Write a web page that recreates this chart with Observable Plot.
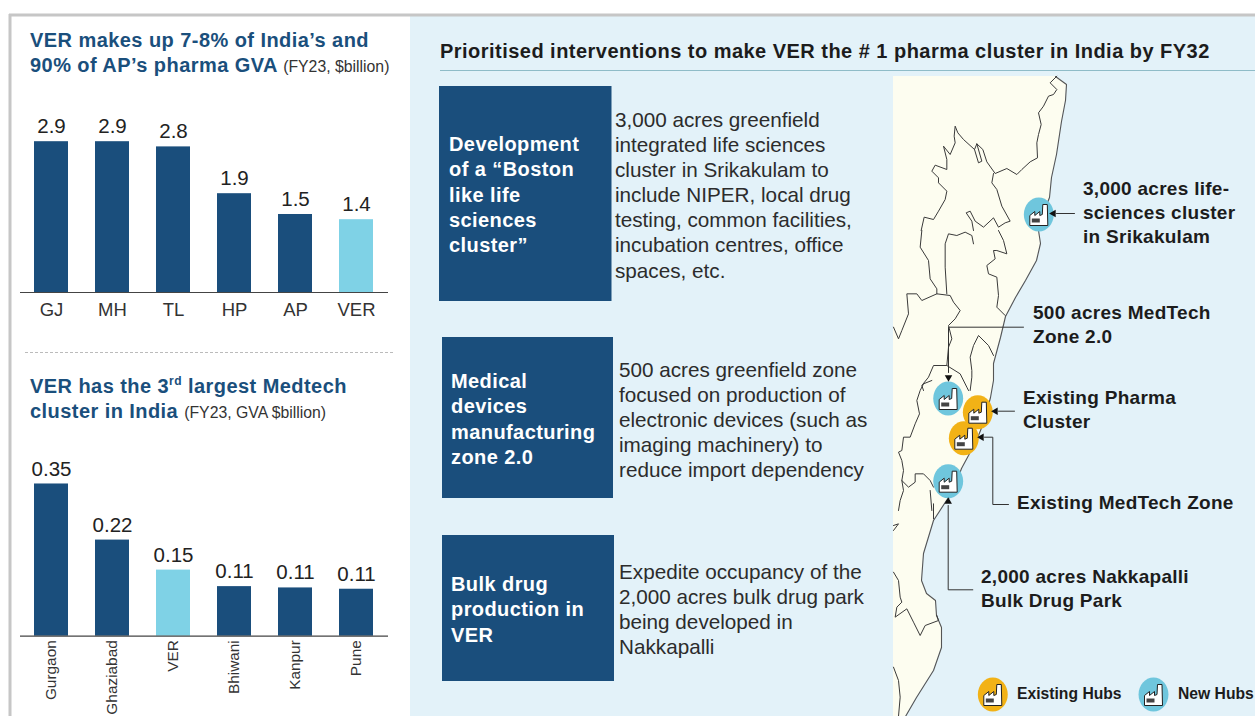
<!DOCTYPE html>
<html><head><meta charset="utf-8">
<script src="https://cdn.jsdelivr.net/npm/d3@7"></script>
<script src="https://cdn.jsdelivr.net/npm/@observablehq/plot@0.6"></script>
<style>
html,body{margin:0;padding:0;background:#fff;overflow:hidden}
#page{position:relative;width:1255px;height:716px;overflow:hidden;font-family:"Liberation Sans",Arial,sans-serif}
#page svg{position:absolute;left:0;top:0;background:transparent;max-width:none}
.t{position:absolute;white-space:nowrap}
.head{color:#1a4f7c;font-weight:bold;font-size:20px;line-height:25px;left:30px;letter-spacing:.44px}
.head small{font-weight:normal;font-size:15.8px;color:#333;letter-spacing:0}
.head sup{font-size:12px;line-height:0}
.title{font-weight:bold;font-size:20px;line-height:24px;color:#1c1c1c;letter-spacing:.47px}
.box{color:#fff;font-weight:bold;font-size:20px;line-height:25.3px;letter-spacing:.42px}
.desc{color:#2c2c2c;font-size:20.7px;line-height:25.1px}
.lab{color:#1c1c1c;font-weight:bold;font-size:19px;line-height:24px;letter-spacing:.28px}
.leg{color:#1c1c1c;font-weight:bold;font-size:15.7px;line-height:18px}
</style></head><body><div id="page"></div>
<script>
// ---- chart data
const stateNames = ["GJ","MH","TL","HP","AP","VER"];
const stateGva = [2.9,2.9,2.8,1.9,1.5,1.4];
const clusterNames = ["Gurgaon","Ghaziabad","VER","Bhiwani","Kanpur","Pune"];
const clusterGva = [0.35,0.221,0.152,0.114,0.111,0.108];
const NAVY="#1a4e7c", SKY="#7fd2e6", INK="#222", ORANGE="#f2b216", TEAL="#6fc6dd";

// ---- text
const boxTexts = [
 ["Development","of a “Boston","like life","sciences","cluster”"],
 ["Medical","devices","manufacturing","zone 2.0"],
 ["Bulk drug","production in","VER"]];
const descTexts = [
 ["3,000 acres greenfield","integrated life sciences","cluster in Srikakulam to","include NIPER, local drug","testing, common facilities,","incubation centres, office","spaces, etc."],
 ["500 acres greenfield zone","focused on production of","electronic devices (such as","imaging machinery) to","reduce import dependency"],
 ["Expedite occupancy of the","2,000 acres bulk drug park","being developed in","Nakkapalli"]];
const mapLabels = [
 ["3,000 acres life-","sciences cluster","in Srikakulam"],
 ["500 acres MedTech","Zone 2.0"],
 ["Existing Pharma","Cluster"],
 ["Existing MedTech Zone"],
 ["2,000 acres Nakkapalli","Bulk Drug Park"]];

// ---- map geometry (traced outline, page pixels)
const coast = [[1055,76],[1066,84],[1065,100],[1061,121],[1056,154],[1051,177],[1049,197],[1042,215],[1038,230],[1040,243],[1036,260],[1025,280],[1015,297],[1005,316],[1000,337],[993,363],[993,380],[990,397],[984,420],[978,435],[968,455],[961,468],[951,495],[946,500],[933,520],[923,553],[921,580],[926,593],[935,600],[936,615],[941,627],[941,647],[933,670],[916,697],[905,716]];
const tr = (ox,oy,pts) => pts.map(([x,y])=>[x/3+ox,y/3+oy]);
const borders = [
 tr(893,74,[[490,5],[470,25],[490,45],[480,60],[465,65],[450,95],[435,115],[443,150],[435,180],[430,205],[432,250],[410,262],[385,285],[370,300],[340,282],[305,297],[280,262],[268,225],[250,208],[243,225],[210,195],[193,175],[185,155],[182,185],[185,205],[170,240],[150,215],[160,255],[160,285],[125,272],[115,290],[135,310],[135,325],[160,350],[155,375],[135,410],[120,435],[92,428],[83,468]]),
 tr(893,74,[[243,225],[255,265],[265,260],[250,208]]),
 tr(893,74,[[300,297],[295,325],[310,345],[325,395],[350,440],[335,445],[315,458],[300,430],[270,458],[245,440],[230,410],[218,415],[235,440],[240,468]]),
 tr(893,230,[[85,0],[80,50],[105,90],[110,145],[130,175],[130,190]]),
 tr(893,230,[[240,40],[235,15],[215,5],[190,15],[165,10],[155,40],[155,110],[160,190]]),
 tr(893,230,[[315,0],[330,30],[340,70],[310,60],[300,60],[305,85],[280,105],[285,130],[310,140],[315,195],[310,230],[335,255]]),
 tr(893,230,[[0,290],[15,325],[25,300],[45,250],[40,190],[70,190],[85,210],[130,190],[170,195],[180,215],[200,240],[185,265],[165,285],[175,325],[165,350],[160,405],[120,405],[105,440],[85,465],[90,480]]),
 tr(893,230,[[160,405],[200,430],[220,470],[225,480]]),
 tr(893,230,[[300,375],[285,345],[255,315],[240,345],[230,380],[235,420],[235,440],[230,480]]),
 tr(893,380,[[115,0],[90,10],[80,30],[70,60],[78,100],[65,130],[50,170],[30,170],[25,210],[15,215],[25,240],[30,270],[25,300],[45,320],[65,305],[65,280],[90,280],[110,300],[120,320]]),
 tr(893,380,[[25,300],[30,330],[20,360],[15,390]]),
 tr(893,380,[[110,330],[115,390]]),
 tr(893,500,[[0,215],[15,240],[20,290],[25,305],[10,320],[5,350],[40,325],[60,365],[80,405],[95,375],[135,360],[130,345]]),
 tr(893,500,[[0,500],[15,540],[20,590],[15,648]]),
 tr(893,500,[[0,75],[15,70],[0,90]]),
 tr(893,500,[[120,10],[120,55]])
];
const leaders = [
 [[1074,213],[1056,213]],
 [[1023,326.7],[948,326.7],[948,372]],
 [[1014,410.7],[998,410.7]],
 [[1008,504],[992.3,504],[992.3,436.7],[984,436.7]],
 [[972.3,589.3],[947.7,589.3],[947.7,505]]
];
const arrowTips = [{p:[1053,213],r:-90},{p:[948,377],r:180},{p:[995,410.7],r:-90},{p:[981,436.7],r:-90},{p:[947.7,501],r:0}];
const hubsNew = [[1038.3,214],[947.7,398],[947.7,480.7],[1153,694]];
const hubsOld = [[977.3,411.7],[963.3,437.7],[992.3,694]];
const boxes = [[439,86,611.5,301],[442,337,613,498],[442,535,614,681]];

// ---- hub symbols
const k = .5523;
const badge = {draw(c,s){const r=Math.sqrt(s/Math.PI), a=r*.88, b=r;
  c.moveTo(a,0);c.bezierCurveTo(a,b*k,a*k,b,0,b);c.bezierCurveTo(-a*k,b,-a,b*k,-a,0);
  c.bezierCurveTo(-a,-b*k,-a*k,-b,0,-b);c.bezierCurveTo(a*k,-b,a,-b*k,a,0);c.closePath();}};
const factory = {draw(c,s){const u=Math.sqrt(s/Math.PI)/12;
  const P=[[-9,11],[-9,1],[-4,-3],[-4,1],[1,-3],[1,1],[3.5,0],[4,-10],[8.5,-10],[9,11]];
  P.forEach(([x,y],i)=>i?c.lineTo(x*u,y*u):c.moveTo(x*u,y*u));c.closePath();}};
const windows = {draw(c,s){const u=Math.sqrt(s/Math.PI)/12;
  c.moveTo(-7*u,4*u);c.lineTo(1*u,4*u);c.lineTo(1*u,8*u);c.lineTo(-7*u,8*u);c.closePath();}};
const hubMarks = (pts,fill)=>[
  Plot.dot(pts,{x:d=>d[0],y:d=>d[1],r:17,symbol:badge,fill}),
  Plot.dot(pts,{x:d=>d[0],y:d=>d[1],r:12,symbol:factory,fill:"#fff",stroke:"#222",strokeWidth:1}),
  Plot.dot(pts,{x:d=>d[0],y:d=>d[1],r:12,symbol:windows,fill:"#444"})
];

const page = document.getElementById("page");

// ---- background panel and map
const panel = Plot.plot({
  width:1255,height:716,margin:0,
  x:{domain:[0,1255],range:[0,1255],axis:null},
  y:{domain:[0,716],range:[0,716],axis:null},
  marks:[
    Plot.rect([[410,16,1255,716]],{x1:d=>d[0],y1:d=>d[1],x2:d=>d[2],y2:d=>d[3],fill:"#e3f2f9"}),
    Plot.ruleY([14.5],{x1:9,x2:1255,stroke:"#c6c6c6",strokeWidth:3}),
    Plot.ruleX([9.5],{y1:14,y2:716,stroke:"#c6c6c6",strokeWidth:3}),
    Plot.ruleY([352],{x1:25,x2:394,stroke:"#bbb",strokeWidth:1,strokeDasharray:"3 2"}),
    Plot.ruleY([70],{x1:440,x2:1255,stroke:"#8fbcc8",strokeWidth:1.2}),
    Plot.rect(boxes,{x1:d=>d[0],y1:d=>d[1],x2:d=>d[2],y2:d=>d[3],fill:NAVY}),
    Plot.areaX(coast,{x1:893,x2:d=>d[0],y:d=>d[1],fill:"#fdfdf0"}),
    Plot.line(coast,{x:d=>d[0],y:d=>d[1],stroke:"#555",strokeWidth:1.1}),
    ...borders.map(b=>Plot.line(b,{x:d=>d[0],y:d=>d[1],stroke:"#3a3a3a",strokeWidth:1})),
    ...leaders.map(l=>Plot.line(l,{x:d=>d[0],y:d=>d[1],stroke:"#333",strokeWidth:1})),
    ...hubMarks(hubsNew,TEAL),
    ...hubMarks(hubsOld,ORANGE),
    Plot.dot(arrowTips,{x:d=>d.p[0],y:d=>d.p[1],rotate:d=>d.r,symbol:"triangle2",r:3.6,fill:"#111"})
  ]
});
page.appendChild(panel);

// ---- bar charts
function bars(names,values,o){
  const rows = names.map((name,i)=>({name,value:values[i]}));
  const svg = Plot.plot({
    width:400,height:o.height,marginLeft:20,marginRight:12,marginTop:o.top,marginBottom:o.bottom,
    style:{background:"transparent",overflow:"visible"},
    x:{domain:names,range:[20,386],paddingInner:.45,paddingOuter:.225,label:null},
    y:{domain:[0,o.max],axis:null},
    marks:[
      Plot.barY(rows,{x:"name",y:"value",fill:d=>d.name==="VER"?SKY:NAVY}),
      Plot.ruleY([0],{stroke:"#444",strokeWidth:1.2}),
      Plot.text(rows,{x:"name",y:"value",text:d=>d.value.toFixed(o.digits),dy:-15,fontSize:20.5,fill:INK,fontFamily:"Liberation Sans"}),
      Plot.axisX({tickSize:0,fontSize:o.tick,tickPadding:o.pad,tickRotate:o.rot,label:null,color:"#333",fontFamily:"Liberation Sans"})
    ]
  });
  svg.style.top = o.y+"px";
  page.appendChild(svg);
}
// baseline 292; 52 px per unit
bars(stateNames,stateGva,{y:0,height:340,top:140,bottom:48,max:2.923,digits:1,tick:18.5,pad:10,rot:0});
// baseline 635.7; 434 px per unit
bars(clusterNames,clusterGva,{y:420,height:296,top:50,bottom:80.3,max:0.381,digits:2,tick:15.4,pad:4,rot:-90});

// ---- html text
function block(cls,lines,left,top){
  const d=document.createElement("div");d.className="t "+cls;
  if(left!=null)d.style.left=left+"px";d.style.top=top+"px";
  d.innerHTML=lines.join("<br>");
  page.appendChild(d);
}
block("head",["VER makes up 7-8% of India’s and","90% of AP’s pharma GVA <small>(FY23, $billion)</small>"],null,28);
block("head",["VER has the 3<sup>rd</sup> largest Medtech","cluster in India <small>(FY23, GVA $billion)</small>"],null,374);
block("title",["Prioritised interventions to make VER the # 1 pharma cluster in India by FY32"],440,39);
block("box",boxTexts[0],449,132);
block("box",boxTexts[1],451,369);
block("box",boxTexts[2],451,572);
block("desc",descTexts[0],615,107);
block("desc",descTexts[1],619,357);
block("desc",descTexts[2],619,559);
block("lab",mapLabels[0],1083,177);
block("lab",mapLabels[1],1033,301);
block("lab",mapLabels[2],1023,386);
block("lab",mapLabels[3],1017,491);
block("lab",mapLabels[4],981,565);
block("leg",["Existing Hubs"],1017,685);
block("leg",["New Hubs"],1178,685);
</script></body></html>
